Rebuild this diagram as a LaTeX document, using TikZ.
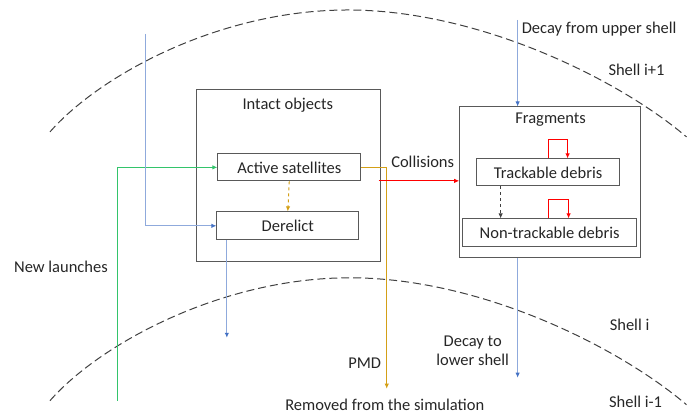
\documentclass[tikz,border=0pt]{standalone}
\usepackage{fontspec}
\setmainfont{Carlito}
\usetikzlibrary{arrows.meta}
\definecolor{lineblue}{RGB}{143,170,220}
\definecolor{tipblue}{RGB}{68,114,196}
\definecolor{launchgreen}{RGB}{51,196,107}
\definecolor{pmdgold}{RGB}{212,160,23}
\definecolor{boxgray}{RGB}{89,89,89}
\definecolor{shellgray}{RGB}{64,64,64}
\tikzset{
  txt/.style={font=\fontsize{16.5}{19}\selectfont, text=black!85, inner sep=0pt},
  bigbox/.style={draw=boxgray, line width=0.9pt},
  objbox/.style={draw=boxgray, line width=0.9pt, txt},
  shell/.style={shellgray, line width=1pt, dash pattern=on 8pt off 4pt},
  tip/.style={-{Latex[length=5pt,width=4.5pt,color=#1]}},
  decay/.style={lineblue, line width=1pt, tip=tipblue},
  launch/.style={launchgreen, line width=1pt, tip=launchgreen},
  pmd/.style={pmdgold, line width=1pt, tip=pmdgold},
  coll/.style={red, line width=1pt, tip=red},
}
\begin{document}
\begin{tikzpicture}[x=1pt,y=-1pt]
\path (0,0) rectangle (687,414);
\draw[shell] (50,132) .. controls (100,75) and (220,10) .. (348,10) .. controls (480,10) and (620,80) .. (687,137);
\draw[shell] (50,401) .. controls (100,344) and (222,278) .. (350,278) .. controls (482,278) and (620,348) .. (687,405);
\node[bigbox, minimum width=184pt, minimum height=172pt] (intact) at (289,176) {};
\node[txt] (intactT) at (288,105) {Intact objects};
\node[objbox, minimum width=143pt, minimum height=27pt] (active) at (289.5,167.5) {Active satellites};
\node[objbox, minimum width=142pt, minimum height=28pt] (derelict) at (288,226) {Derelict};
\node[bigbox, minimum width=181pt, minimum height=151pt] (fragments) at (550.5,182.5) {};
\node[txt] (fragmentsT) at (551,120) {Fragments};
\node[objbox, minimum width=143pt, minimum height=27pt] (trackable) at (548.5,172.5) {Trackable debris};
\node[objbox, minimum width=174pt, minimum height=28pt] (nontrackable) at (550,233) {Non-trackable debris};
\node[txt, anchor=west] (decayU) at (522,29) {Decay from upper shell};
\node[txt] (shellA) at (637,70) {Shell i+1};
\node[txt] (shellB) at (630,325) {Shell i};
\node[txt] (shellC) at (636,402) {Shell i-1};
\node[txt] (launches) at (61,267) {New launches};
\node[txt] (collisions) at (423,162) {Collisions};
\node[txt] (pmdT) at (365,363) {PMD};
\node[txt] (removed) at (385,405) {Removed from the simulation};
\node[txt, align=center] (decayL) at (473,351) {Decay to\\lower shell};
\coordinate (launchStart) at (118,401);
\coordinate (decayStart) at (146,34);
\coordinate (derelictEnd) at (227,338);
\coordinate (pmdEnd) at (387,389);
\coordinate (collStart) at (379,181);
\coordinate (upperStart) at (518,20);
\coordinate (lowerEnd) at (518,378);
\draw[launch] (launchStart) |- (active.west);
\draw[decay] (decayStart) |- (derelict.west);
\draw[decay] (derelict.south -| derelictEnd) -- (derelictEnd);
\draw[pmd, dashed] (active.south) -- (derelict.north);
\draw[pmd] (active.east) -| (pmdEnd);
\draw[coll] (collStart) -- (collStart -| fragments.west);
\draw[decay] (upperStart) -- (upperStart |- fragments.north);
\draw[decay] (lowerEnd |- fragments.south) -- (lowerEnd);
\draw[coll] (trackable.north) -- ++(0,-19) -| ([xshift=19.5pt]trackable.north);
\draw[coll] ([xshift=-1pt]nontrackable.north) -- ++(0,-19) -| ([xshift=19pt]nontrackable.north);
\draw[shellgray, line width=0.8pt, dashed, tip=shellgray] ([xshift=-47.5pt]trackable.south) -- ([xshift=-47.5pt]trackable.south |- nontrackable.north);
\end{tikzpicture}
\end{document}
